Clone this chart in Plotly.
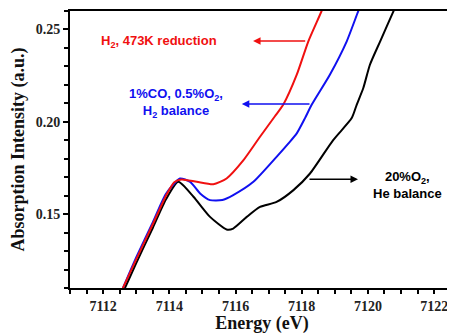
import plotly.graph_objects as go

# Data
red_x = [7112.5, 7112.6, 7113.0, 7113.5, 7113.9, 7114.15, 7114.37, 7114.83, 7115.33, 7115.73, 7116.24, 7116.74, 7117.19, 7117.44, 7117.85, 7118.20, 7118.60, 7118.75]
red_y = [0.106, 0.110, 0.1255, 0.1445, 0.1600, 0.1673, 0.1688, 0.1675, 0.1662, 0.1693, 0.1792, 0.1919, 0.2030, 0.2092, 0.2255, 0.2436, 0.2600, 0.2670]

blue_x = [7112.5, 7112.6, 7113.0, 7113.5, 7113.9, 7114.32, 7114.63, 7114.93, 7115.23, 7115.60, 7115.93, 7116.54, 7117.24, 7117.60, 7117.85, 7118.10, 7118.30, 7118.85, 7119.36, 7119.71, 7119.85]
blue_y = [0.106, 0.110, 0.1265, 0.1455, 0.1610, 0.1693, 0.1675, 0.1612, 0.1576, 0.1576, 0.1603, 0.1675, 0.1810, 0.1883, 0.1937, 0.2020, 0.2092, 0.2255, 0.2436, 0.2600, 0.2660]

black_x = [7112.55, 7112.66, 7113.0, 7113.5, 7113.9, 7114.27, 7114.73, 7115.23, 7115.73, 7115.93, 7116.34, 7116.74, 7117.24, 7117.75, 7118.25, 7118.95, 7119.51, 7119.66, 7119.86, 7120.06, 7120.37, 7120.77, 7120.90]
black_y = [0.106, 0.110, 0.1235, 0.1425, 0.1580, 0.1675, 0.1594, 0.1485, 0.1417, 0.1422, 0.1485, 0.1539, 0.1566, 0.1630, 0.1720, 0.1901, 0.2020, 0.2092, 0.2183, 0.2309, 0.2436, 0.2598, 0.2650]

x_ticks = [7112, 7114, 7116, 7118, 7120, 7122]
y_ticks = [0.15, 0.20, 0.25]
y_tick_labels = ["0.15", "0.20", "0.25"]

fig = go.Figure()
fig.add_trace(go.Scatter(x=black_x, y=black_y, mode="lines", line=dict(color="#000000", width=2, shape="spline", smoothing=0.6)))
fig.add_trace(go.Scatter(x=blue_x, y=blue_y, mode="lines", line=dict(color="#1010f0", width=2, shape="spline", smoothing=0.6)))
fig.add_trace(go.Scatter(x=red_x, y=red_y, mode="lines", line=dict(color="#f01010", width=2, shape="spline", smoothing=0.6)))

txt_font = dict(family="Liberation Sans, Arial", size=13)

# Labels
fig.add_annotation(x=7111.88, y=0.2437, text="<b>H<sub>2</sub>, 473K reduction</b>", showarrow=False,
                   xanchor="left", yanchor="middle", font=dict(color="#f01010", **txt_font))
fig.add_annotation(x=7116.53, y=0.2437, ax=7118.15, ay=0.2437, axref="x", ayref="y", text="",
                   showarrow=True, arrowhead=2, arrowsize=1, arrowwidth=1.5, arrowcolor="#f01010")

fig.add_annotation(x=7114.2, y=0.2104, text="<b>1%CO, 0.5%O<sub>2</sub>,<br>H<sub>2</sub> balance</b>", showarrow=False,
                   xanchor="center", yanchor="middle", font=dict(color="#1010f0", **txt_font))
fig.add_annotation(x=7116.19, y=0.2096, ax=7118.28, ay=0.2096, axref="x", ayref="y", text="",
                   showarrow=True, arrowhead=2, arrowsize=1, arrowwidth=1.5, arrowcolor="#1010f0")

fig.add_annotation(x=7121.21, y=0.1660, text="<b>20%O<sub>2</sub>,<br>He balance</b>", showarrow=False,
                   xanchor="center", yanchor="middle", font=dict(color="#000000", **txt_font))
fig.add_annotation(x=7119.70, y=0.1689, ax=7118.19, ay=0.1689, axref="x", ayref="y", text="",
                   showarrow=True, arrowhead=2, arrowsize=1, arrowwidth=1.5, arrowcolor="#000000")

axis_font = dict(family="Liberation Serif, Times New Roman", size=14, color="#222222", weight="bold")
title_font = dict(family="Liberation Serif, Times New Roman", size=18, color="#111111")

fig.update_xaxes(range=[7111, 7122.6], tickvals=x_ticks, ticktext=[str(v) for v in x_ticks],
                 ticks="outside", ticklen=4, tickwidth=1.5, tickcolor="black",
                 minor=dict(dtick=0.5, tick0=7111, ticks="outside", ticklen=4, tickwidth=1.5, tickcolor="black"),
                 showline=True, linecolor="black", linewidth=2, mirror=True, showgrid=False, zeroline=False,
                 tickfont=axis_font, title=dict(text="<b>Energy (eV)</b>", font=title_font, standoff=2))
fig.update_yaxes(range=[0.11, 0.26], tickvals=y_ticks, ticktext=y_tick_labels,
                 ticks="outside", ticklen=5, tickwidth=1.5, tickcolor="black",
                 minor=dict(dtick=0.01, tick0=0.11, ticks="outside", ticklen=4, tickwidth=1.5, tickcolor="black"),
                 showline=True, linecolor="black", linewidth=2, mirror=False, showgrid=False, zeroline=False,
                 tickfont=axis_font, title=dict(text="<b>Absorption Intensity (a.u.)</b>", font=title_font, standoff=6))

# the page adds an 8px body margin, so the figure is 8px smaller and shifted
fig.update_layout(width=447, height=326, margin=dict(l=62, r=1, t=3, b=46),
                  plot_bgcolor="white", paper_bgcolor="white", showlegend=False)

fig.write_html("out.html")
